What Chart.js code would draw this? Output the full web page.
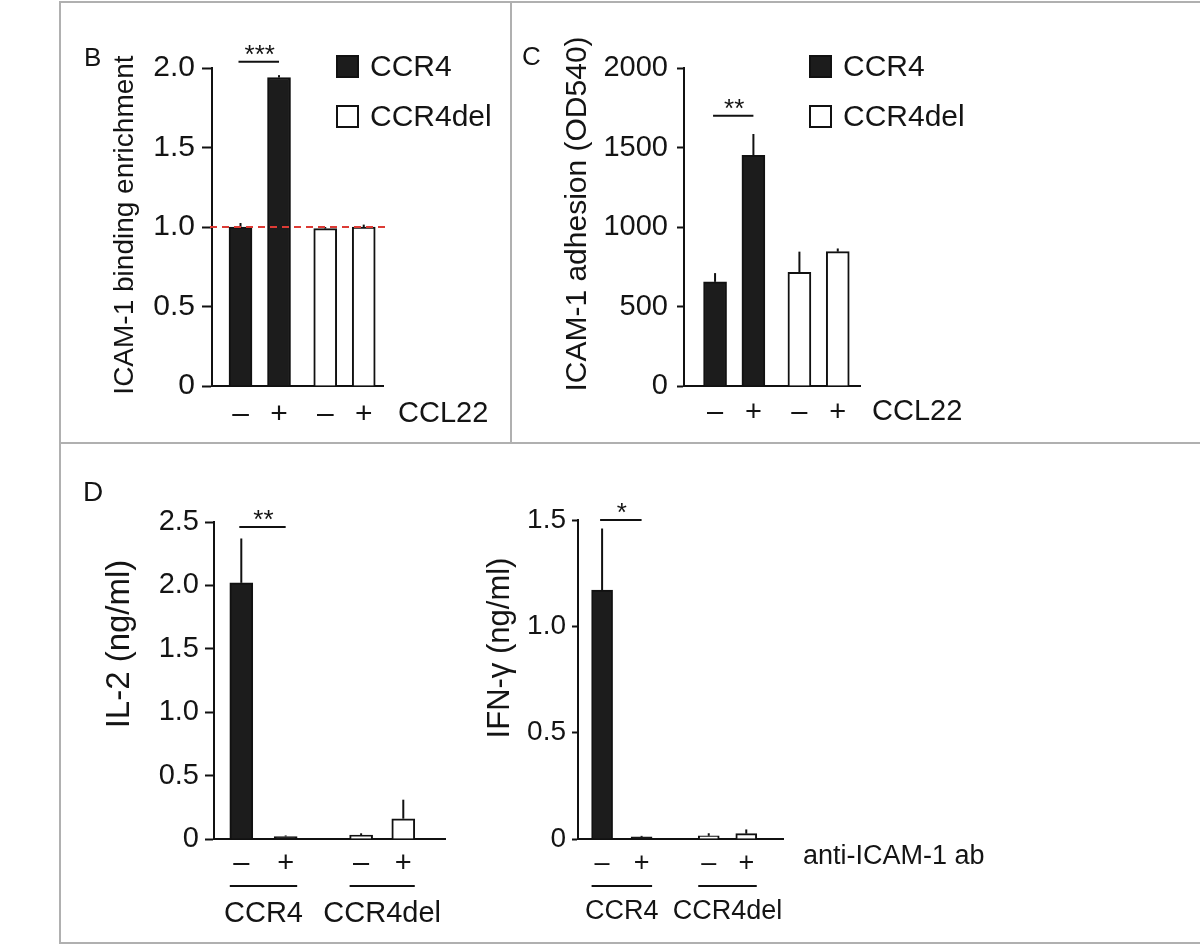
<!DOCTYPE html>
<html>
<head>
<meta charset="utf-8">
<script src="https://cdn.jsdelivr.net/npm/chart.js@4.4.1/dist/chart.umd.min.js"></script>
<style>
  body { margin: 0; background: #fff; }
  #page { position: relative; width: 1200px; height: 945px; overflow: hidden; }
  canvas { position: absolute; left: 0; top: 0; }
  .rule { position: absolute; background: #b0b0b0; }
</style>
</head>
<body>
<div id="page">
  <div class="rule" style="left:59px;top:1px;width:1141px;height:2px"></div>
  <div class="rule" style="left:59px;top:1px;width:2px;height:943px"></div>
  <div class="rule" style="left:510px;top:1px;width:2px;height:442px"></div>
  <div class="rule" style="left:59px;top:442px;width:1141px;height:2px"></div>
  <div class="rule" style="left:59px;top:942px;width:1141px;height:2px"></div>
  <canvas id="chartB" width="1200" height="945"></canvas>
  <canvas id="chartC" width="1200" height="945"></canvas>
  <canvas id="chartIL2" width="1200" height="945"></canvas>
  <canvas id="chartIFN" width="1200" height="945"></canvas>
</div>
<script>
const FONT = '"Liberation Sans", Arial, Helvetica, sans-serif';
Chart.defaults.font.family = FONT;
Chart.defaults.color = '#141414';

const genotypes = ['CCR4', 'CCR4del'];
const treatment = ['–', '+'];

// B - ICAM-1 binding enrichment
const bindingCCR4 = [1.00, 1.94];
const bindingCCR4Err = [0.025, 0.015];
const bindingDel = [0.99, 1.00];
const bindingDelErr = [0.01, 0.015];
const bindingTicks = ['0', '0.5', '1.0', '1.5', '2.0'];
const bindingBaseline = 1.0;
const bindingSig = '***';
const bindingSigLevel = 2.04;

// C - ICAM-1 adhesion
const adhesionCCR4 = [655, 1450];
const adhesionCCR4Err = [55, 135];
const adhesionDel = [715, 845];
const adhesionDelErr = [130, 20];
const adhesionTicks = ['0', '500', '1000', '1500', '2000'];
const adhesionSig = '**';
const adhesionSigLevel = 1700;

// D - IL-2
const il2CCR4 = [2.02, 0.02];
const il2CCR4Err = [0.35, 0.005];
const il2Del = [0.03, 0.16];
const il2DelErr = [0.015, 0.15];
const il2Ticks = ['0', '0.5', '1.0', '1.5', '2.0', '2.5'];
const il2Sig = '**';
const il2SigLevel = 2.46;

// D - IFN-gamma
const ifnCCR4 = [1.17, 0.01];
const ifnCCR4Err = [0.29, 0.004];
const ifnDel = [0.015, 0.025];
const ifnDelErr = [0.012, 0.02];
const ifnTicks = ['0', '0.5', '1.0', '1.5'];
const ifnSig = '*';
const ifnSigLevel = 1.5;

function extras(p) {
  return {
    id: 'extras',
    afterDraw(chart) {
      const ctx = chart.ctx;
      const area = chart.chartArea;
      const y = chart.scales.y;
      const bars = [];
      chart.data.datasets.forEach((d, di) => {
        chart.getDatasetMeta(di).data.forEach((el, i) => {
          bars.push({ el, v: d.data[i].y, e: d.errors[i] });
        });
      });
      ctx.save();
      ctx.strokeStyle = '#111';
      ctx.fillStyle = '#141414';
      ctx.lineWidth = 2;

      // error bars
      bars.forEach(b => {
        const top = y.getPixelForValue(b.v + b.e);
        ctx.beginPath();
        ctx.moveTo(b.el.x, b.el.y);
        ctx.lineTo(b.el.x, Math.min(top, b.el.y - 1));
        ctx.stroke();
      });

      // dashed reference line
      if (p.baseline !== undefined) {
        const by = y.getPixelForValue(p.baseline);
        ctx.save();
        ctx.strokeStyle = '#dc3b35';
        ctx.setLineDash([7, 5]);
        ctx.beginPath();
        ctx.moveTo(area.left - 2, by);
        ctx.lineTo(area.right + 4, by);
        ctx.stroke();
        ctx.restore();
      }

      // significance bracket
      const sy = y.getPixelForValue(p.sigLevel);
      ctx.beginPath();
      ctx.moveTo(bars[0].el.x - 2, sy);
      ctx.lineTo(bars[1].el.x, sy);
      ctx.stroke();
      ctx.font = '26px ' + FONT;
      ctx.textAlign = 'center';
      ctx.textBaseline = 'alphabetic';
      ctx.fillText(p.sig, (bars[0].el.x + bars[1].el.x) / 2, sy + 1);

      // y title
      ctx.save();
      ctx.translate(p.title.x, p.title.y);
      ctx.rotate(-Math.PI / 2);
      ctx.font = p.title.size + 'px ' + FONT;
      ctx.textAlign = 'center';
      ctx.textBaseline = 'middle';
      ctx.fillText(p.title.text, 0, 0);
      ctx.restore();

      // panel letter
      if (p.letter) {
        ctx.font = p.letter.size + 'px ' + FONT;
        ctx.textAlign = 'left';
        ctx.textBaseline = 'alphabetic';
        ctx.fillText(p.letter.text, p.letter.x, p.letter.y);
      }

      // treatment name to the right of the axis
      ctx.font = p.rowLabel.size + 'px ' + FONT;
      ctx.textAlign = 'left';
      ctx.textBaseline = 'middle';
      ctx.fillText(p.rowLabel.text, area.right + p.rowLabel.dx, area.bottom + p.rowLabel.dy);

      // legend
      if (p.legend) {
        const L = p.legend;
        chart.data.datasets.forEach((d, i) => {
          const top = L.y + i * L.gap;
          ctx.fillStyle = d.backgroundColor;
          ctx.fillRect(L.x, top, L.size, L.size);
          ctx.strokeRect(L.x + 1, top + 1, L.size - 2, L.size - 2);
          ctx.fillStyle = '#141414';
          ctx.font = L.font + 'px ' + FONT;
          ctx.textAlign = 'left';
          ctx.textBaseline = 'middle';
          ctx.fillText(d.label, L.x + L.size + 11, top + L.size / 2 + 1);
        });
      }

      // group underlines and names
      if (p.groups) {
        const G = p.groups;
        ctx.font = G.size + 'px ' + FONT;
        ctx.textAlign = 'center';
        ctx.textBaseline = 'middle';
        genotypes.forEach((g, gi) => {
          const a = bars[gi * 2].el, b = bars[gi * 2 + 1].el;
          const x1 = a.x - a.width / 2, x2 = b.x + b.width / 2;
          const ly = area.bottom + G.lineDy;
          ctx.beginPath();
          ctx.moveTo(x1, ly);
          ctx.lineTo(x2, ly);
          ctx.stroke();
          ctx.fillText(g, (x1 + x2) / 2, area.bottom + G.textDy);
        });
      }
      ctx.restore();
    }
  };
}

function panel(id, p) {
  const Wy = 90, Hx = 60;
  const pts = (vals, first) => vals.map((v, i) => ({ x: p.slots[first + i], y: v }));
  const ds = (label, vals, errs, first, fill) => ({
    label: label,
    data: pts(vals, first),
    errors: errs,
    backgroundColor: fill,
    borderColor: '#111',
    borderWidth: 2,
    barThickness: p.barW,
    grouped: false
  });
  return new Chart(document.getElementById(id), {
    type: 'bar',
    data: {
      datasets: [
        ds(genotypes[0], p.ccr4, p.ccr4Err, 0, '#1c1c1c'),
        ds(genotypes[1], p.del, p.delErr, 2, '#ffffff')
      ]
    },
    options: {
      responsive: false,
      animation: false,
      events: [],
      layout: {
        autoPadding: false,
        padding: {
          left: p.area.left - Wy,
          right: 1200 - p.area.right,
          top: p.area.top,
          bottom: 945 - p.area.bottom - Hx
        }
      },
      plugins: { legend: { display: false }, tooltip: { enabled: false } },
      scales: {
        x: {
          type: 'linear',
          offset: false,
          min: p.xMin,
          max: p.xMax,
          z: 1,
          grid: { offset: false, drawOnChartArea: false, drawTicks: false },
          border: { display: true, width: 2, color: '#111' },
          afterBuildTicks: s => { s.ticks = p.slots.map(v => ({ value: v })); },
          afterFit: s => { s.height = Hx; },
          ticks: {
            autoSkip: false,
            maxRotation: 0,
            padding: p.xPad,
            font: { size: p.xFont },
            callback: (v, i) => treatment[i % 2]
          }
        },
        y: {
          min: 0,
          max: p.yMax,
          z: 1,
          grid: {
            drawOnChartArea: false,
            drawTicks: true,
            tickLength: p.tickLen,
            tickColor: '#111',
            tickWidth: 2
          },
          border: { display: true, width: 2, color: '#111' },
          afterFit: s => { s.width = Wy; },
          ticks: {
            stepSize: p.yStep,
            padding: p.yPad,
            font: { size: p.yFont },
            callback: (v, i) => p.ticks[i]
          }
        }
      }
    },
    plugins: [extras(p)]
  });
}

panel('chartB', {
  area: { left: 212, right: 383, top: 68, bottom: 386 },
  slots: [0, 1, 2.2, 3.2], xMin: -0.74, xMax: 3.70, barW: 23,
  ccr4: bindingCCR4, ccr4Err: bindingCCR4Err, del: bindingDel, delErr: bindingDelErr,
  yMax: 2, yStep: 0.5, ticks: bindingTicks, yFont: 30, yPad: 7, tickLen: 10,
  xFont: 30, xPad: 11,
  baseline: bindingBaseline, sig: bindingSig, sigLevel: bindingSigLevel,
  title: { text: 'ICAM-1 binding enrichment', x: 125, y: 225, size: 28 },
  letter: { text: 'B', x: 84, y: 66, size: 26 },
  rowLabel: { text: 'CCL22', dx: 15, dy: 28, size: 29 },
  legend: { x: 336, y: 55, gap: 50, size: 23, font: 30 }
});

panel('chartC', {
  area: { left: 684, right: 860, top: 68, bottom: 386 },
  slots: [0, 1, 2.2, 3.2], xMin: -0.81, xMax: 3.78, barW: 23,
  ccr4: adhesionCCR4, ccr4Err: adhesionCCR4Err, del: adhesionDel, delErr: adhesionDelErr,
  yMax: 2000, yStep: 500, ticks: adhesionTicks, yFont: 29, yPad: 9, tickLen: 7,
  xFont: 29, xPad: 10,
  sig: adhesionSig, sigLevel: adhesionSigLevel,
  title: { text: 'ICAM-1 adhesion (OD540)', x: 578, y: 214, size: 30 },
  letter: { text: 'C', x: 522, y: 65, size: 26 },
  rowLabel: { text: 'CCL22', dx: 12, dy: 26, size: 29 },
  legend: { x: 809, y: 55, gap: 50, size: 23, font: 30 }
});

panel('chartIL2', {
  area: { left: 214, right: 445, top: 522, bottom: 839 },
  slots: [0, 1, 2.7, 3.65], xMin: -0.615, xMax: 4.59, barW: 23,
  ccr4: il2CCR4, ccr4Err: il2CCR4Err, del: il2Del, delErr: il2DelErr,
  yMax: 2.5, yStep: 0.5, ticks: il2Ticks, yFont: 29, yPad: 6, tickLen: 9,
  xFont: 29, xPad: 8,
  sig: il2Sig, sigLevel: il2SigLevel,
  title: { text: 'IL-2 (ng/ml)', x: 120, y: 644, size: 33 },
  letter: { text: 'D', x: 83, y: 501, size: 28 },
  rowLabel: { text: '', dx: 0, dy: 0, size: 27 },
  groups: { lineDy: 47, textDy: 75, size: 29 }
});

panel('chartIFN', {
  area: { left: 578, right: 783, top: 520, bottom: 839 },
  slots: [0, 1, 2.7, 3.65], xMin: -0.61, xMax: 4.58, barW: 21,
  ccr4: ifnCCR4, ccr4Err: ifnCCR4Err, del: ifnDel, delErr: ifnDelErr,
  yMax: 1.5, yStep: 0.5, ticks: ifnTicks, yFont: 28, yPad: 6, tickLen: 6,
  xFont: 27, xPad: 8,
  sig: ifnSig, sigLevel: ifnSigLevel,
  title: { text: 'IFN-γ (ng/ml)', x: 500, y: 648, size: 31 },
  rowLabel: { text: 'anti-ICAM-1 ab', dx: 20, dy: 18, size: 27 },
  groups: { lineDy: 47, textDy: 73, size: 27 }
});
</script>
</body>
</html>
